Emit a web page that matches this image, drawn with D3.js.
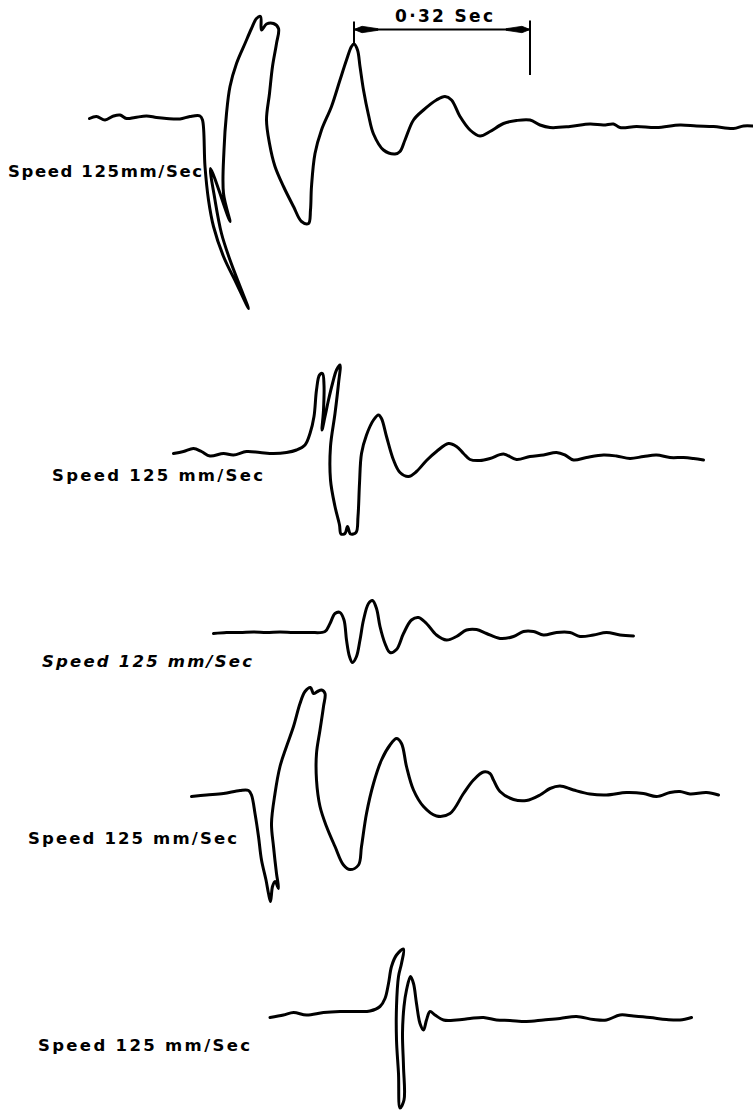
<!DOCTYPE html>
<html>
<head>
<meta charset="utf-8">
<script src="https://cdn.jsdelivr.net/npm/d3@7"></script>
<style>
	body { margin: 0; background: #fff; }
	svg { display: block; }
	.trace { fill: none; stroke: #000; stroke-width: 3; stroke-linejoin: round; stroke-linecap: round; }
	.label { font-family: "DejaVu Sans", sans-serif; font-weight: bold; fill: #000; }
</style>
</head>
<body>
<svg width="753" height="1115"></svg>
<script>
// Record: time along the record in mm, deflection in mm (up = +)
var baselines = [23.6, 90.6, 126.6, 158.6, 203.2];   // mm from top of sheet
var speed_labels = ['Speed 125mm/Sec', 'Speed 125 mm/Sec', 'Speed 125 mm/Sec', 'Speed 125 mm/Sec', 'Speed 125 mm/Sec'];

var trace1 = [
	[17.9,-0.1],[19.3,0.3],[21.0,-0.4],[22.7,0.4],[24.0,0.6],[25.3,-0.1],[27.0,0.1],[29.3,0.4],[31.3,0.1],[33.3,-0.1],
	[36.0,-0.2],[38.0,0.3],[40.0,0.4],[40.5,-0.4],[41.0,-9.7],[41.7,-16.4],[42.7,-21.7],[44.7,-27.7],[47.3,-33.1],[49.7,-38.1],
	[48.3,-34.4],[46.0,-28.4],[44.3,-23.1],[43.0,-16.4],[42.1,-10.1],[46.0,-20.7],[44.7,-15.1],[44.8,-6.4],[45.3,0.9],[46.0,6.3],
	[47.3,10.9],[49.0,14.9],[50.3,17.9],[51.3,19.9],[52.1,20.3],[52.3,17.6],[53.3,18.8],[54.7,18.9],[55.7,17.9],[55.3,14.9],
	[54.5,10.3],[53.9,4.9],[53.3,-0.4],[53.9,-5.1],[55.0,-9.7],[56.7,-13.7],[58.7,-17.7],[60.3,-20.7],[61.7,-21.1],[62.1,-18.4],
	[62.3,-13.7],[63.0,-7.1],[64.3,-2.4],[66.3,2.3],[68.0,7.6],[69.3,11.6],[70.3,14.3],[70.8,14.8],[71.5,13.6],[72.0,10.3],
	[72.7,5.6],[73.7,0.6],[74.7,-3.2],[76.7,-6.4],[79.0,-7.2],[80.0,-6.7],[81.0,-4.4],[82.7,-0.4],[84.7,1.6],[87.3,3.6],
	[89.0,4.3],[90.3,3.6],[92.0,0.3],[94.0,-2.4],[96.0,-3.6],[98.0,-2.7],[100.7,-1.1],[103.3,-0.5],[106.0,-0.4],[108.0,-1.4],
	[110.0,-1.9],[114.0,-1.7],[118.0,-1.2],[120.7,-1.4],[122.7,-1.2],[124.0,-1.9],[127.3,-1.7],[131.3,-1.9],[136.0,-1.4],[139.3,-1.6],
	[142.7,-1.7],[146.7,-2.1],[148.7,-1.6],[150.5,-1.6]
];

var trace2 = [
	[34.7,-0.1],[36.7,0.3],[38.7,0.9],[40.3,0.3],[42.0,-0.6],[44.7,-0.1],[46.7,-0.4],[49.3,0.3],[52.0,0.1],[54.7,-0.1],
	[57.3,0.1],[59.3,0.6],[61.0,1.6],[62.0,3.9],[62.8,7.3],[63.3,12.6],[63.9,15.6],[64.5,15.9],[64.8,13.6],[64.7,8.6],
	[64.4,4.6],[65.0,7.3],[65.7,10.6],[66.5,13.9],[67.3,16.6],[68.0,17.6],[67.7,13.9],[67.0,7.9],[66.1,1.3],[66.1,-5.4],
	[67.0,-10.7],[67.9,-14.4],[68.2,-16.2],[69.0,-16.1],[69.5,-14.7],[70.1,-16.2],[71.2,-15.9],[71.6,-12.7],[71.9,-6.1],[72.3,-0.1],
	[73.3,3.6],[74.7,6.6],[75.7,7.6],[76.3,6.9],[77.3,3.3],[78.7,-1.4],[80.0,-3.9],[81.7,-4.7],[83.3,-3.7],[85.3,-1.5],
	[87.3,0.3],[89.7,1.9],[91.3,1.3],[92.7,-0.1],[94.0,-1.3],[96.0,-1.5],[98.0,-1.1],[100.7,-0.2],[103.3,-1.3],[106.0,-0.7],
	[108.7,-0.4],[111.3,0.1],[113.0,-0.4],[114.7,-1.4],[117.3,-0.9],[120.7,-0.4],[123.3,-0.6],[126.0,-1.1],[128.7,-0.7],[131.3,-0.4],
	[134.0,-0.9],[136.7,-0.9],[138.7,-1.1],[140.7,-1.4]
];

var trace3 = [
	[42.7,-0.1],[45.3,0.1],[48.0,0.1],[50.7,0.2],[53.3,0.1],[56.0,0.2],[58.7,0.1],[62.0,0.1],[65.0,0.3],[66.0,1.9],
	[67.0,3.9],[68.0,4.1],[68.8,2.6],[69.3,-1.4],[69.9,-4.7],[70.5,-5.9],[71.3,-4.7],[72.0,-1.4],[72.7,2.6],[73.7,5.9],
	[74.5,6.5],[75.3,4.9],[76.0,1.3],[77.0,-2.1],[78.0,-3.9],[79.3,-3.3],[80.7,-0.1],[82.3,2.6],[83.7,3.1],[85.3,1.9],
	[87.3,-0.4],[89.3,-1.4],[91.3,-0.7],[93.3,0.6],[95.3,0.7],[97.3,-0.1],[100.0,-1.1],[102.7,-0.7],[104.7,0.3],[106.7,0.3],
	[108.7,-0.4],[111.3,0.1],[114.0,0.1],[116.0,-0.7],[118.7,-0.4],[121.3,0.1],[124.0,-0.4],[126.7,-0.6]
];

var trace4 = [
	[38.3,-0.7],[41.3,-0.4],[44.7,-0.1],[48.0,0.5],[49.7,0.5],[50.3,-0.4],[51.0,-4.1],[51.7,-8.7],[52.3,-13.4],[53.2,-17.4],
	[53.7,-20.1],[54.1,-21.7],[54.5,-18.7],[55.0,-17.7],[55.7,-19.1],[55.3,-16.1],[54.7,-10.7],[54.3,-6.1],[55.0,-0.1],[56.0,5.3],
	[57.3,9.3],[58.7,13.3],[60.0,17.9],[61.0,20.3],[62.1,21.1],[62.7,19.9],[63.5,20.3],[64.3,20.6],[65.0,19.9],[64.7,17.3],
	[64.0,12.6],[63.3,7.9],[63.3,2.6],[64.0,-2.7],[65.3,-6.7],[67.0,-10.7],[68.7,-14.4],[70.0,-15.3],[71.7,-14.4],[72.3,-10.7],
	[73.3,-4.1],[74.7,1.9],[76.3,6.6],[78.0,9.6],[79.3,10.9],[80.3,9.9],[81.3,5.3],[82.7,0.6],[84.7,-2.7],[87.3,-4.6],
	[90.0,-4.1],[92.7,-0.1],[94.7,2.6],[96.7,4.2],[98.0,3.9],[98.7,2.6],[100.0,0.3],[102.7,-1.3],[105.3,-1.5],[108.0,-0.4],
	[110.0,0.9],[112.0,1.4],[114.7,0.6],[118.0,-0.2],[121.3,-0.4],[125.3,0.1],[128.7,-0.1],[131.3,-0.7],[134.0,0.1],[136.0,0.3],
	[138.0,-0.2],[141.3,0.1],[143.7,-0.4]
];

var trace5 = [
	[54.0,-0.3],[56.7,0.2],[58.7,0.7],[61.3,0.2],[64.7,0.7],[68.0,0.9],[71.3,0.9],[74.0,1.0],[76.0,1.9],[77.0,3.5],
	[77.7,6.5],[78.3,9.9],[79.3,12.2],[80.7,13.4],[80.3,10.5],[79.7,7.9],[79.3,1.9],[79.3,-4.8],[79.7,-11.5],[80.0,-18.4],
	[80.8,-16.8],[80.7,-10.1],[80.5,-3.5],[80.8,1.9],[81.3,5.2],[82.1,7.9],[82.7,6.5],[83.3,2.5],[84.0,-1.5],[84.7,-2.8],
	[85.3,-0.8],[86.0,0.9],[87.0,0.2],[88.7,-0.8],[91.3,-0.8],[94.0,-0.5],[96.7,-0.3],[99.3,-0.8],[102.0,-0.9],[105.3,-1.1],
	[108.7,-0.8],[112.0,-0.5],[115.3,-0.1],[118.7,-0.7],[121.3,-0.8],[124.0,0.2],[126.7,0.0],[130.0,-0.3],[133.3,-0.7],[136.0,-0.8],
	[138.3,-0.3]
];

var traces = [trace1, trace2, trace3, trace4, trace5];

// Time mark on the first record: peak of trace 1 plus 0.32 s
var mark_start = 70.8;        // mm
var mark_span = 0.32;         // s
var record_speed = 110;       // mm/s on this reproduction
var mark_label = '0\u00B732 Sec';

// Label placement (px): left, baseline, width
var label_pos = [[8, 177, 194], [52, 481, 211], [42, 667, 210], [28, 844, 209], [38, 1051, 212]];

var width = 753, height = 1115;
var svg = d3.select('svg');

// Sheet scales, mm -> px
var x = d3.scaleLinear().domain([0, 150.6]).range([0, width]);
var y = d3.scaleLinear().domain([0, 223]).range([0, height]);

var line = d3.line()
	.curve(d3.curveCatmullRom.alpha(0.5));

var records = svg.selectAll('.record')
	.data(traces)
	.enter().append('g')
	.attr('class', 'record');

records.append('path')
	.attr('class', 'trace')
	.attr('d', function(d, i)
		{
			return line.x(p => x(p[0])).y(p => y(baselines[i] - p[1]))(d);
		});

records.append('text')
	.attr('class', 'label')
	.attr('x', (d, i) => label_pos[i][0])
	.attr('y', (d, i) => label_pos[i][1])
	.attr('textLength', (d, i) => label_pos[i][2])
	.attr('lengthAdjust', 'spacing')
	.attr('font-size', 16.5)
	.attr('font-style', (d, i) => i === 2 ? 'italic' : 'normal')
	.text((d, i) => speed_labels[i]);

// 0.32 Sec marker
var mark_end = mark_start + mark_span * record_speed;
var b0 = baselines[0];
var mark = svg.append('g').attr('stroke', '#000').attr('fill', '#000');
mark.append('line')
	.attr('x1', x(mark_start)).attr('x2', x(mark_start))
	.attr('y1', y(b0 - 19.3)).attr('y2', y(b0 - 14.9))
	.attr('stroke-width', 2);
mark.append('line')
	.attr('x1', x(mark_end)).attr('x2', x(mark_end))
	.attr('y1', y(b0 - 19.5)).attr('y2', y(b0 - 8.6))
	.attr('stroke-width', 2);
mark.append('line')
	.attr('x1', x(mark_start)).attr('x2', x(mark_end))
	.attr('y1', y(b0 - 17.7)).attr('y2', y(b0 - 17.7))
	.attr('stroke-width', 1.8);

function arrow_head(tip, dir)
{
	var ty = y(b0 - 17.7);
	var tx = x(tip);
	return `M ${tx} ${ty} L ${tx + dir * 8} ${ty - 3.2} L ${tx + dir * 24} ${ty - 0.8} L ${tx + dir * 24} ${ty + 0.8} L ${tx + dir * 8} ${ty + 3.2} Z`;
}
mark.append('path').attr('d', arrow_head(mark_start, 1)).attr('stroke-width', 0.8);
mark.append('path').attr('d', arrow_head(mark_end, -1)).attr('stroke-width', 0.8);

svg.append('text')
	.attr('class', 'label')
	.attr('x', x((mark_start + mark_end) / 2) + 2)
	.attr('y', y(b0 - 19.2))
	.attr('text-anchor', 'middle')
	.attr('font-size', 17)
	.attr('textLength', 98)
	.attr('lengthAdjust', 'spacing')
	.text(mark_label);
</script>
</body>
</html>
